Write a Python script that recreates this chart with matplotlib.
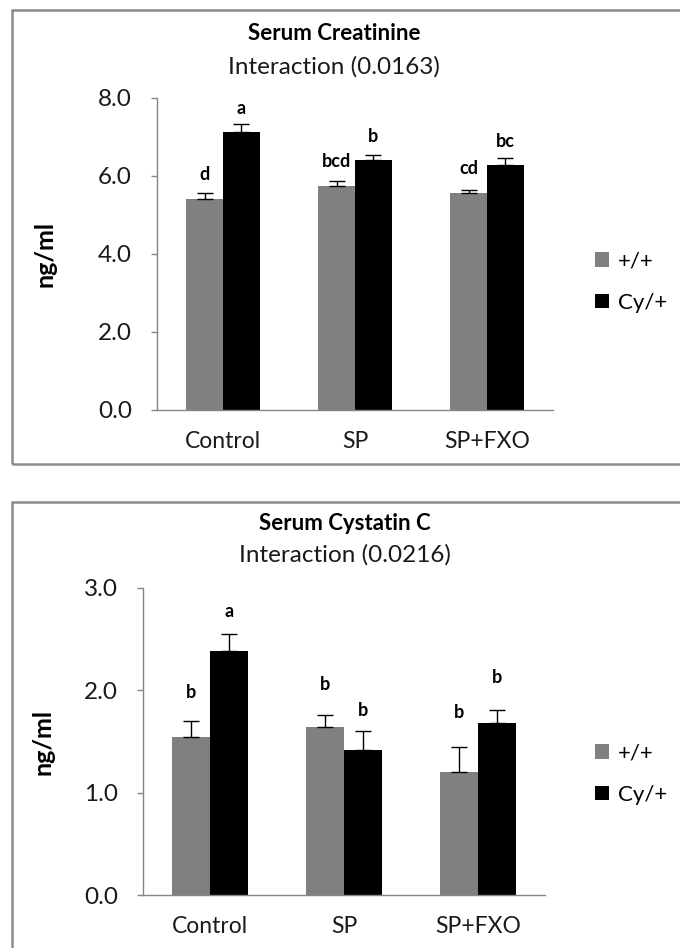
import matplotlib
matplotlib.use("Agg")
import matplotlib.pyplot as plt
from matplotlib.patches import Rectangle, Patch
import numpy as np

plt.rcParams['font.family'] = ['Lato', 'DejaVu Sans']

categories = ["Control", "SP", "SP+FXO"]
series_names = ["+/+", "Cy/+"]

# Serum Creatinine (ng/ml)
creat_wt = [5.42, 5.74, 5.56]
creat_wt_err = [0.15, 0.13, 0.08]
creat_cy = [7.12, 6.40, 6.27]
creat_cy_err = [0.22, 0.13, 0.20]
creat_letters_wt = ["d", "bcd", "cd"]
creat_letters_cy = ["a", "b", "bc"]
creat_letter_y_wt = [6.04, 6.37, 6.19]
creat_letter_y_cy = [7.72, 7.00, 6.89]

# Serum Cystatin C (ng/ml)
cyst_wt = [1.54, 1.64, 1.20]
cyst_wt_err = [0.16, 0.12, 0.25]
cyst_cy = [2.38, 1.42, 1.68]
cyst_cy_err = [0.17, 0.18, 0.13]
cyst_letters_wt = ["b", "b", "b"]
cyst_letters_cy = ["a", "b", "b"]
cyst_letter_y_wt = [1.98, 2.06, 1.78]
cyst_letter_y_cy = [2.77, 1.80, 2.13]

W, H = 680, 948
fig = plt.figure(figsize=(W / 100, H / 100), dpi=100)

GRAY = "#808080"
BLACK = "#000000"
SPINE = "#868686"
BOX = "#8c8c8c"
TXT = "#1a1a1a"


def px_rect(x0, y0, x1, y1):
    return [x0 / W, 1 - y1 / H, (x1 - x0) / W, (y1 - y0) / H]


def panel(rect, title, subtitle, title_xc, title_y, sub_y,
          wt, wt_err, cy, cy_err, lw_, lc_, ly_wt, ly_cy,
          ymax, yticks, legend_yc):
    ax = fig.add_axes(rect)
    x = np.arange(len(categories))
    bw = 0.28
    ax.bar(x - bw / 2, wt, bw, color=GRAY, label=series_names[0], zorder=2)
    ax.bar(x + bw / 2, cy, bw, color=BLACK, label=series_names[1], zorder=2)
    ax.errorbar(x - bw / 2, wt, yerr=[np.zeros(3), wt_err], fmt="none",
                ecolor="black", elinewidth=1, capsize=6, capthick=1, zorder=3)
    ax.errorbar(x + bw / 2, cy, yerr=[np.zeros(3), cy_err], fmt="none",
                ecolor="black", elinewidth=1, capsize=6, capthick=1, zorder=3)
    for i in range(3):
        ax.text(x[i] - bw / 2, ly_wt[i], lw_[i], ha="center", va="center",
                fontsize=13, fontweight="bold")
        ax.text(x[i] + bw / 2, ly_cy[i], lc_[i], ha="center", va="center",
                fontsize=13, fontweight="bold")
    ax.set_xlim(-0.5, 2.5)
    ax.set_ylim(0, ymax)
    ax.set_yticks(yticks)
    ax.set_yticklabels([f"{v:.1f}" for v in yticks])
    ax.set_xticks(x)
    ax.set_xticklabels(categories)
    for s in ["top", "right"]:
        ax.spines[s].set_visible(False)
    for s in ["left", "bottom"]:
        ax.spines[s].set_color(SPINE)
        ax.spines[s].set_linewidth(1)
    ax.tick_params(axis="y", length=4, width=1, color=SPINE, pad=14,
                   labelsize=17.5, labelcolor=TXT)
    ax.tick_params(axis="x", length=0, pad=15, labelsize=16.5,
                   labelcolor=TXT)
    ax.set_ylabel("ng/ml", fontsize=18, fontweight="bold")
    fig.text(title_xc / W, 1 - title_y / H, title, ha="center", va="center",
             fontsize=16, fontweight="bold")
    fig.text(title_xc / W, 1 - sub_y / H, subtitle, ha="center", va="center",
             fontsize=17.5, color=TXT)
    handles = [Patch(facecolor=GRAY, edgecolor="none"),
               Patch(facecolor=BLACK, edgecolor="none")]
    fig.legend(handles, series_names, loc="center left",
               bbox_to_anchor=(595 / W, 1 - legend_yc / H),
               frameon=False, fontsize=16, handlelength=0.62,
               handleheight=0.62, handletextpad=0.4, labelspacing=0.95,
               borderpad=0, borderaxespad=0)
    return ax


ax1 = panel(px_rect(157, 98, 553, 410), "Serum Creatinine",
            "Interaction (0.0163)", 334, 34, 67,
            creat_wt, creat_wt_err, creat_cy, creat_cy_err,
            creat_letters_wt, creat_letters_cy, creat_letter_y_wt,
            creat_letter_y_cy, 8.0, [0, 2, 4, 6, 8], 282)
ax1.yaxis.set_label_coords((56 - 157) / 396, 0.5)

ax2 = panel(px_rect(143, 588, 545, 895), "Serum Cystatin C",
            "Interaction (0.0216)", 345, 523, 555,
            cyst_wt, cyst_wt_err, cyst_cy, cyst_cy_err,
            cyst_letters_wt, cyst_letters_cy, cyst_letter_y_wt,
            cyst_letter_y_cy, 3.0, [0, 1, 2, 3], 774)
ax2.yaxis.set_label_coords((54 - 143) / 402, 0.5)

# chart-area borders
fig.patches.append(Rectangle((12 / W, 1 - 464 / H), (W + 5 - 12) / W,
                             (464 - 10) / H, transform=fig.transFigure,
                             fill=False, edgecolor=BOX, linewidth=1.8))
fig.patches.append(Rectangle((12 / W, -0.05), (W + 5 - 12) / W,
                             1 - 502 / H + 0.05, transform=fig.transFigure,
                             fill=False, edgecolor=BOX, linewidth=1.8))

fig.savefig("out.png", dpi=100)
